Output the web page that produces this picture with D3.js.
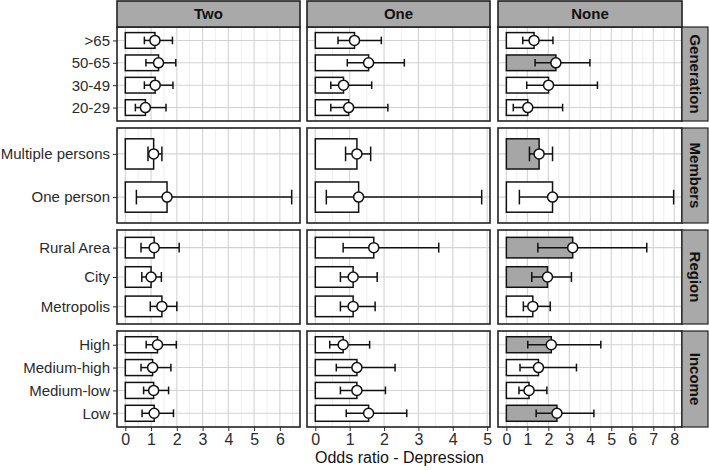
<!DOCTYPE html>
<html>
<head>
<meta charset="utf-8">
<script src="https://cdn.jsdelivr.net/npm/d3@7"></script>
<style>
  body { margin: 0; background: #fff; }
  svg { font-family: "Liberation Sans", Arial, sans-serif; }
</style>
</head>
<body>
<div id="chart"></div>
<script>
const columns = ["Two", "One", "None"];
const rowGroups = ["Generation", "Members", "Region", "Income"];

const generationLevels = [">65", "50-65", "30-49", "20-29"];
const membersLevels = ["Multiple persons", "One person"];
const regionLevels = ["Rural Area", "City", "Metropolis"];
const incomeLevels = ["High", "Medium-high", "Medium-low", "Low"];

// 13 rows in the order above (Generation, Members, Region, Income)
const orTwo  = [1.15, 1.29, 1.16, 0.78, 1.10, 1.62, 1.12, 1.00, 1.42, 1.25, 1.06, 1.10, 1.12];
const lowTwo = [0.74, 0.80, 0.74, 0.39, 0.88, 0.43, 0.61, 0.64, 0.97, 0.81, 0.61, 0.71, 0.65];
const upTwo  = [1.83, 1.96, 1.85, 1.58, 1.42, 6.46, 2.09, 1.40, 2.00, 1.98, 1.77, 1.68, 1.87];

const orOne  = [1.14, 1.55, 0.82, 0.97, 1.21, 1.26, 1.70, 1.10, 1.10, 0.81, 1.21, 1.21, 1.55];
const lowOne = [0.66, 0.93, 0.45, 0.45, 0.88, 0.32, 0.81, 0.73, 0.73, 0.42, 0.61, 0.73, 0.90];
const upOne  = [1.92, 2.59, 1.64, 2.11, 1.61, 4.84, 3.59, 1.80, 1.74, 1.58, 2.32, 2.04, 2.66];

const orNone  = [1.32, 2.36, 2.01, 1.02, 1.56, 2.20, 3.16, 1.96, 1.26, 2.14, 1.53, 1.08, 2.41];
const lowNone = [0.78, 1.37, 0.97, 0.33, 1.10, 0.62, 1.50, 1.21, 0.81, 1.02, 0.65, 0.60, 1.42];
const upNone  = [2.22, 3.98, 4.34, 2.68, 2.20, 7.97, 6.69, 3.10, 2.09, 4.50, 3.34, 1.93, 4.17];

// significant (grey bar) flags
const sigTwo  = [0, 0, 0, 0, 0, 0, 0, 0, 0, 0, 0, 0, 0];
const sigOne  = [0, 0, 0, 0, 0, 0, 0, 0, 0, 0, 0, 0, 0];
const sigNone = [0, 1, 0, 0, 1, 0, 1, 1, 0, 1, 0, 0, 1];

const levelsByGroup = [generationLevels, membersLevels, regionLevels, incomeLevels];
const seriesByCol = [
  { or: orTwo, low: lowTwo, up: upTwo, sig: sigTwo },
  { or: orOne, low: lowOne, up: upOne, sig: sigOne },
  { or: orNone, low: lowNone, up: upNone, sig: sigNone }
];

// build rows
const rows = [];
levelsByGroup.forEach((levels, g) => {
  levels.forEach(lv => rows.push({ group: rowGroups[g], level: lv }));
});

const width = 709, height = 470;
const colX = [[117, 300], [307, 490], [498, 682]];
const rowY = [[27, 121], [128, 223], [230, 324], [331, 427]];
const stripTop = [1, 27];
const stripRight = [682, 708];

const svg = d3.select("#chart").append("svg")
  .attr("width", width)
  .attr("height", height);

const xScales = seriesByCol.map((s, c) => {
  const mx = d3.max(s.up);
  return d3.scaleLinear()
    .domain([-0.05 * mx, mx * 1.05])
    .range(colX[c]);
});

const yScales = levelsByGroup.map((levels, g) =>
  d3.scalePoint().domain(levels).range(rowY[g]).padding(0.6));

const textCol = "#2b2b2b";
const ink = "#111";
const lw = 1.5;

columns.forEach((col, c) => {
  const x = xScales[c];
  const s = seriesByCol[c];
  const mx = x.domain()[1];

  rowGroups.forEach((grp, g) => {
    const y = yScales[g];
    const step = y.step();
    const panel = svg.append("g");

    panel.append("rect")
      .attr("x", colX[c][0]).attr("y", rowY[g][0])
      .attr("width", colX[c][1] - colX[c][0])
      .attr("height", rowY[g][1] - rowY[g][0])
      .attr("fill", "#fff");

    // minor grid
    const minor = d3.range(0.5, mx, 1);
    panel.selectAll(".minor").data(minor).enter().append("line")
      .attr("x1", d => x(d)).attr("x2", d => x(d))
      .attr("y1", rowY[g][0]).attr("y2", rowY[g][1])
      .attr("stroke", "#e8e8e8").attr("stroke-width", 0.7);
    // major grid
    const major = d3.range(0, Math.floor(mx) + 1);
    panel.selectAll(".major").data(major).enter().append("line")
      .attr("x1", d => x(d)).attr("x2", d => x(d))
      .attr("y1", rowY[g][0]).attr("y2", rowY[g][1])
      .attr("stroke", "#d3d3d3").attr("stroke-width", 1.1);
    panel.selectAll(".hgrid").data(y.domain()).enter().append("line")
      .attr("x1", colX[c][0]).attr("x2", colX[c][1])
      .attr("y1", d => y(d)).attr("y2", d => y(d))
      .attr("stroke", "#d3d3d3").attr("stroke-width", 1.1);

    const data = rows.map((r, i) => ({
      level: r.level, group: r.group,
      or: s.or[i], low: s.low[i], up: s.up[i], sig: s.sig[i]
    })).filter(d => d.group === grp);

    // bars
    panel.selectAll(".bar").data(data).enter().append("rect")
      .attr("x", x(0))
      .attr("y", d => y(d.level) - step * 0.35)
      .attr("width", d => x(d.or) - x(0))
      .attr("height", step * 0.7)
      .attr("fill", d => d.sig ? "#a6a6a6" : "#fff")
      .attr("stroke", ink)
      .attr("stroke-width", lw);

    // error bars
    const cap = step * 0.17;
    panel.selectAll(".eb").data(data).enter().append("line")
      .attr("x1", d => x(d.low)).attr("x2", d => x(d.up))
      .attr("y1", d => y(d.level)).attr("y2", d => y(d.level))
      .attr("stroke", ink).attr("stroke-width", lw);
    panel.selectAll(".capl").data(data).enter().append("line")
      .attr("x1", d => x(d.low)).attr("x2", d => x(d.low))
      .attr("y1", d => y(d.level) - cap).attr("y2", d => y(d.level) + cap)
      .attr("stroke", ink).attr("stroke-width", lw);
    panel.selectAll(".capu").data(data).enter().append("line")
      .attr("x1", d => x(d.up)).attr("x2", d => x(d.up))
      .attr("y1", d => y(d.level) - cap).attr("y2", d => y(d.level) + cap)
      .attr("stroke", ink).attr("stroke-width", lw);

    // points
    panel.selectAll(".pt").data(data).enter().append("circle")
      .attr("cx", d => x(d.or)).attr("cy", d => y(d.level))
      .attr("r", 5)
      .attr("fill", "#fff").attr("stroke", ink).attr("stroke-width", lw);

    // border
    panel.append("rect")
      .attr("x", colX[c][0]).attr("y", rowY[g][0])
      .attr("width", colX[c][1] - colX[c][0])
      .attr("height", rowY[g][1] - rowY[g][0])
      .attr("fill", "none").attr("stroke", "#222").attr("stroke-width", 1.6);

    // y axis on first column
    if (c === 0) {
      const ax = svg.append("g")
        .attr("transform", `translate(${colX[0][0]},0)`)
        .call(d3.axisLeft(y).tickSize(4).tickPadding(3));
      ax.select(".domain").remove();
      ax.selectAll(".tick line").attr("stroke", textCol);
      ax.selectAll(".tick text")
        .attr("fill", textCol)
        .style("font-size", "15px");
    }
  });

  // x axis
  const xa = svg.append("g")
    .attr("transform", `translate(0,${rowY[3][1]})`)
    .call(d3.axisBottom(x).tickValues(d3.range(0, Math.floor(mx) + 1))
      .tickFormat(d3.format("d")).tickSize(4).tickPadding(3));
  xa.select(".domain").remove();
  xa.selectAll(".tick line").attr("stroke", textCol);
  xa.selectAll(".tick text").attr("fill", textCol).style("font-size", "16px");

  // top strip
  svg.append("rect")
    .attr("x", colX[c][0]).attr("y", stripTop[0])
    .attr("width", colX[c][1] - colX[c][0])
    .attr("height", stripTop[1] - stripTop[0])
    .attr("fill", "#a9a9a9").attr("stroke", "#222").attr("stroke-width", 1.6);
  svg.append("text")
    .attr("x", (colX[c][0] + colX[c][1]) / 2)
    .attr("y", (stripTop[0] + stripTop[1]) / 2)
    .attr("dy", "0.35em")
    .attr("text-anchor", "middle")
    .style("font-size", "15px").style("font-weight", "bold")
    .attr("fill", ink)
    .text(col);
});

// right strips
rowGroups.forEach((grp, g) => {
  svg.append("rect")
    .attr("x", stripRight[0]).attr("y", rowY[g][0])
    .attr("width", stripRight[1] - stripRight[0])
    .attr("height", rowY[g][1] - rowY[g][0])
    .attr("fill", "#a9a9a9").attr("stroke", "#222").attr("stroke-width", 1.2);
  const cx = (stripRight[0] + stripRight[1]) / 2;
  const cy = (rowY[g][0] + rowY[g][1]) / 2;
  svg.append("text")
    .attr("transform", `translate(${cx},${cy}) rotate(90)`)
    .attr("dy", "0.35em")
    .attr("text-anchor", "middle")
    .style("font-size", "15px").style("font-weight", "bold")
    .attr("fill", ink)
    .text(grp);
});

// x title
svg.append("text")
  .attr("x", (colX[0][0] + colX[2][1]) / 2)
  .attr("y", 463)
  .attr("text-anchor", "middle")
  .style("font-size", "16px")
  .attr("fill", ink)
  .text("Odds ratio - Depression");
</script>
</body>
</html>
